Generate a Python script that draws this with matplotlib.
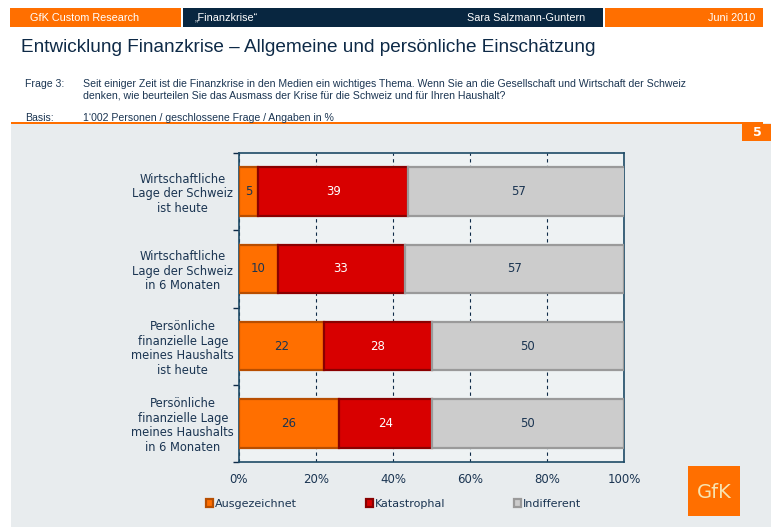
import matplotlib
matplotlib.use("Agg")
import matplotlib.pyplot as plt
from matplotlib.patches import Rectangle

categories = [
    "Wirtschaftliche\nLage der Schweiz\nist heute",
    "Wirtschaftliche\nLage der Schweiz\nin 6 Monaten",
    "Persönliche\nfinanzielle Lage\nmeines Haushalts\nist heute",
    "Persönliche\nfinanzielle Lage\nmeines Haushalts\nin 6 Monaten",
]
ausgezeichnet = [5, 10, 22, 26]
katastrophal = [39, 33, 28, 24]
indifferent = [57, 57, 50, 50]
series_names = ["Ausgezeichnet", "Katastrophal", "Indifferent"]
xticks = [0, 20, 40, 60, 80, 100]
xticklabels = ["0%", "20%", "40%", "60%", "80%", "100%"]

W, H = 771, 527
fig = plt.figure(figsize=(W / 100, H / 100), dpi=100)
fig.patch.set_facecolor("white")

NAVY = "#0E2A47"
TXT = "#1B3552"
ORANGE = "#FF6F00"
RED = "#D80000"
GRAY = "#CCCCCC"
narrow = ["Liberation Sans", "DejaVu Sans"]

def px(x, y):
    return x / W, 1 - y / H

def rect(x0, y0, x1, y1, color, z=0):
    fig.add_artist(Rectangle((x0 / W, 1 - y1 / H), (x1 - x0) / W, (y1 - y0) / H,
                             transform=fig.transFigure, facecolor=color,
                             edgecolor="none", zorder=z))

# header bar
rect(10, 8, 181, 27, ORANGE)
rect(183, 8, 603, 27, "#082640")
rect(605, 8, 763, 27, ORANGE)
fig.text(*px(30, 18), "GfK Custom Research", color="white", fontsize=7.8,
         va="center", ha="left", family=narrow)
fig.text(*px(195, 18), "\u201eFinanzkrise\u201c", color="white", fontsize=7.8,
         va="center", ha="left", family=narrow)
fig.text(*px(585, 18), "Sara Salzmann-Guntern", color="white", fontsize=7.8,
         va="center", ha="right", family=narrow)
fig.text(*px(755, 18), "Juni 2010", color="white", fontsize=7.8,
         va="center", ha="right", family=narrow)

# title
fig.text(*px(21, 47), "Entwicklung Finanzkrise \u2013 Allgemeine und persönliche Einschätzung",
         color=NAVY, fontsize=13.7, va="center", ha="left", family=narrow)

# question
qfs = 7.6
fig.text(*px(25, 84), "Frage 3:", color=TXT, fontsize=qfs, va="center", family=narrow)
fig.text(*px(83, 84), "Seit einiger Zeit ist die Finanzkrise in den Medien ein wichtiges Thema. "
         "Wenn Sie an die Gesellschaft und Wirtschaft der Schweiz", color=TXT, fontsize=qfs,
         va="center", family=narrow)
fig.text(*px(83, 96), "denken, wie beurteilen Sie das Ausmass der Krise für die Schweiz und für Ihren Haushalt?",
         color=TXT, fontsize=qfs, va="center", family=narrow)
fig.text(*px(25, 118), "Basis:", color=TXT, fontsize=qfs, va="center", family=narrow)
fig.text(*px(83, 118), "1\u2018002 Personen / geschlossene Frage / Angaben in %", color=TXT,
         fontsize=qfs, va="center", family=narrow)

# panel
rect(11, 123, 771, 527, "#E8ECEE", z=-1)
rect(11, 122, 763, 124, ORANGE)
rect(742, 124, 771, 141, ORANGE)
fig.text(*px(757, 132.5), "5", color="white", fontsize=9, fontweight="bold",
         va="center", ha="center")

# logo
rect(688, 466, 740, 516, ORANGE)
fig.text(*px(714, 492), "GfK", color="#F7E3B0", fontsize=14, va="center", ha="center")

# main axes
ax = fig.add_axes([239 / W, (H - 462) / H, (624 - 239) / W, (462 - 153) / H])
ax.set_facecolor("#EEF2F3")
n = len(categories)
ypos = list(range(n))
bh = 0.63
colors = [ORANGE, RED, GRAY]
edges = ["#B84E00", "#8A0000", "#9A9A9A"]
label_colors = [TXT, "white", TXT]
data = [ausgezeichnet, katastrophal, indifferent]
left = [0] * n
handles = []
for vals, c, ec, lc, name in zip(data, colors, edges, label_colors, series_names):
    bars = ax.barh(ypos, vals, left=left, height=bh, color=c, edgecolor=ec,
                   linewidth=1.6, label=name, zorder=3)
    handles.append(bars)
    for b, v, l in zip(bars, vals, left):
        ax.text(l + v / 2, b.get_y() + b.get_height() / 2, str(v), color=lc,
                ha="center", va="center", fontsize=8.5, zorder=4)
    left = [a + b for a, b in zip(left, vals)]

ax.set_xlim(0, 100)
ax.set_ylim(n - 0.5, -0.5)
ax.set_xticks(xticks)
ax.set_xticklabels(xticklabels, color=TXT, fontsize=8.5)
ax.tick_params(axis="x", length=0, pad=8)
ax.set_yticks(ypos)
ax.set_yticklabels(categories, color=TXT, fontsize=8.3, linespacing=1.15)
ax.tick_params(axis="y", length=0, pad=10)
for t in ax.get_yticklabels():
    t.set_horizontalalignment("center")
    t.set_x(-0.11)
ax.set_yticks([i + 0.5 for i in range(-1, n)], minor=True)
ax.tick_params(axis="y", which="minor", length=4, color=NAVY, width=1, direction="out")
ax.grid(axis="x", color=NAVY, linestyle=(0, (3, 3)), linewidth=0.8, zorder=1)
for s in ax.spines.values():
    s.set_color("#1E4A66")
    s.set_linewidth(1.2)

leg_x = [206, 366, 514]
for h, name, lx in zip(handles, series_names, leg_x):
    lg = fig.legend([h], [name], loc="center left", bbox_to_anchor=(lx / W, 1 - 504 / H),
                    frameon=False, fontsize=8, handlelength=0.65, handleheight=0.65,
                    handletextpad=0.15, borderpad=0, borderaxespad=0, labelcolor=TXT)

fig.savefig("out.png", dpi=100, facecolor=fig.get_facecolor())
